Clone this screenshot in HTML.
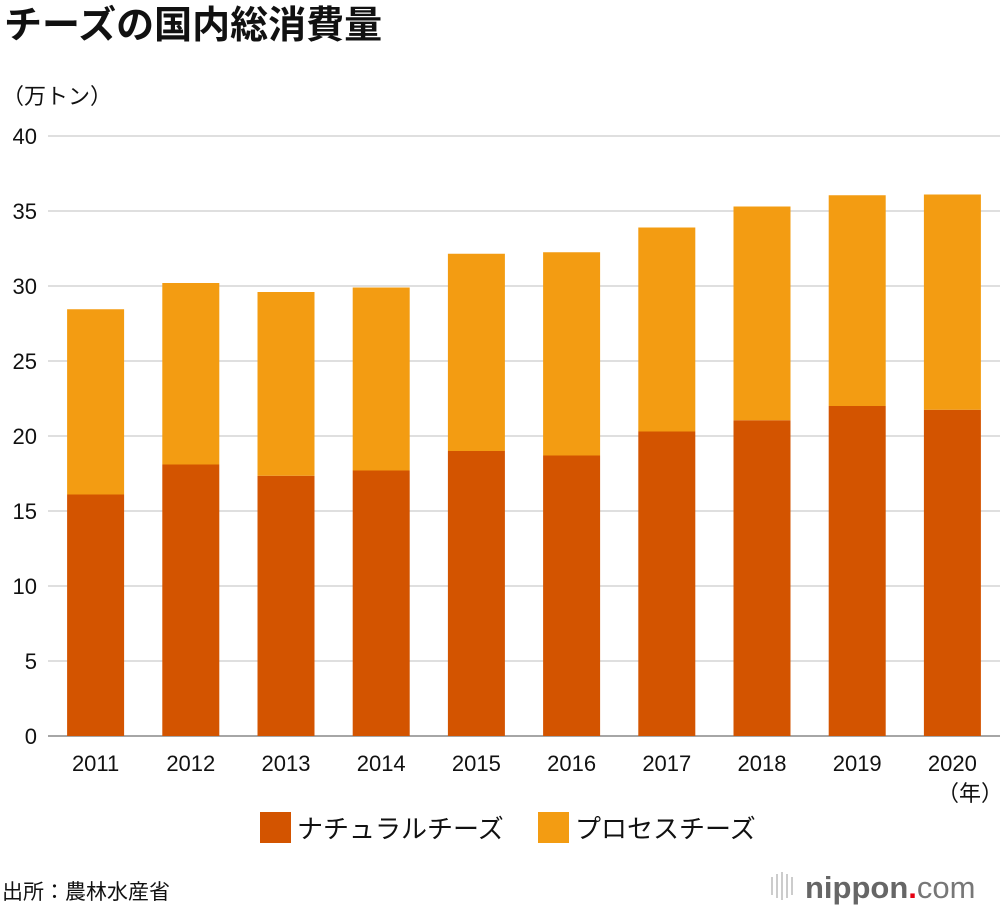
<!DOCTYPE html>
<html><head><meta charset="utf-8">
<style>
body{margin:0;background:#fff;width:1000px;height:910px;overflow:hidden;font-family:"Liberation Sans","Noto Sans CJK JP",sans-serif;}
</style></head><body>
<svg id="c" width="1000" height="910" xmlns="http://www.w3.org/2000/svg" style="font-family:'Liberation Sans','Noto Sans CJK JP',sans-serif">
<text x="4" y="38" font-size="38" font-weight="bold" fill="#111">チーズの国内総消費量</text>
<text x="2" y="104" font-size="22" fill="#111">（万トン）</text>
<g id="grid"></g><g id="bars"></g><g id="labels"></g>
<text x="970" y="801" font-size="22" fill="#111" text-anchor="middle">（年）</text>
<g>
<rect x="260" y="812" width="31" height="31" fill="#d35400"/>
<text x="297" y="838" font-size="26" fill="#111">ナチュラルチーズ</text>
<rect x="538" y="812" width="31" height="31" fill="#f39c12"/>
<text x="575" y="838" font-size="26" fill="#111">プロセスチーズ</text>
</g>
<text x="2" y="899" font-size="21" fill="#111">出所：農林水産省</text>
<g>
<rect x="771" y="877" width="2" height="18" fill="#ccc"/><rect x="776" y="874" width="2" height="24" fill="#ccc"/><rect x="781" y="872" width="2" height="28" fill="#ccc"/><rect x="786" y="874" width="2" height="24" fill="#ccc"/><rect x="791" y="877" width="2" height="18" fill="#ccc"/>
<text x="805" y="898" font-size="31" font-weight="bold" fill="#666">nippon<tspan fill="#e60012">.</tspan><tspan font-weight="normal" fill="#777">com</tspan></text>
</g>
</svg>
<script>
const categories=["2011","2012","2013","2014","2015","2016","2017","2018","2019","2020"];
const natural=[16.1,18.1,17.35,17.7,19.0,18.7,20.3,21.05,22.0,21.75];
const processed=[12.35,12.1,12.25,12.2,13.15,13.55,13.6,14.25,14.05,14.35];
const yTicks=[0,5,10,15,20,25,30,35,40];
const NS="http://www.w3.org/2000/svg";
const x0=48,x1=1000,yB=736,yT=136,yMax=40;
const bw=(x1-x0)/categories.length;
const y=v=>yB-(v/yMax)*(yB-yT);
const xc=i=>x0+bw*(i+0.5);
function mk(t,a,p){const e=document.createElementNS(NS,t);for(const k in a)e.setAttribute(k,a[k]);p.appendChild(e);return e;}
const g=document.getElementById('grid'),b=document.getElementById('bars'),l=document.getElementById('labels');
yTicks.forEach(v=>{
const ln=mk('line',{x1:x0,x2:x1,y1:y(v),y2:y(v),stroke:v===0?'#888':'#ccc','stroke-width':v===0?1.5:1.2},g);


const t=mk('text',{x:37,y:y(v)+8,'font-size':22,'text-anchor':'end',fill:'#111'},l);
t.textContent=v;


});
categories.forEach((c,i)=>{
const w=57,x=xc(i)-w/2;
const r1=mk('rect',{x:x,y:y(natural[i]),width:w,height:yB-y(natural[i]),fill:'#d35400'},b);


const top=natural[i]+processed[i];
const r2=mk('rect',{x:x,y:y(top),width:w,height:y(natural[i])-y(top),fill:'#f39c12'},b);


const t=mk('text',{x:xc(i),y:771,'font-size':22,'text-anchor':'middle',fill:'#111'},l);
t.textContent=c;


});
</script>
</body></html>
